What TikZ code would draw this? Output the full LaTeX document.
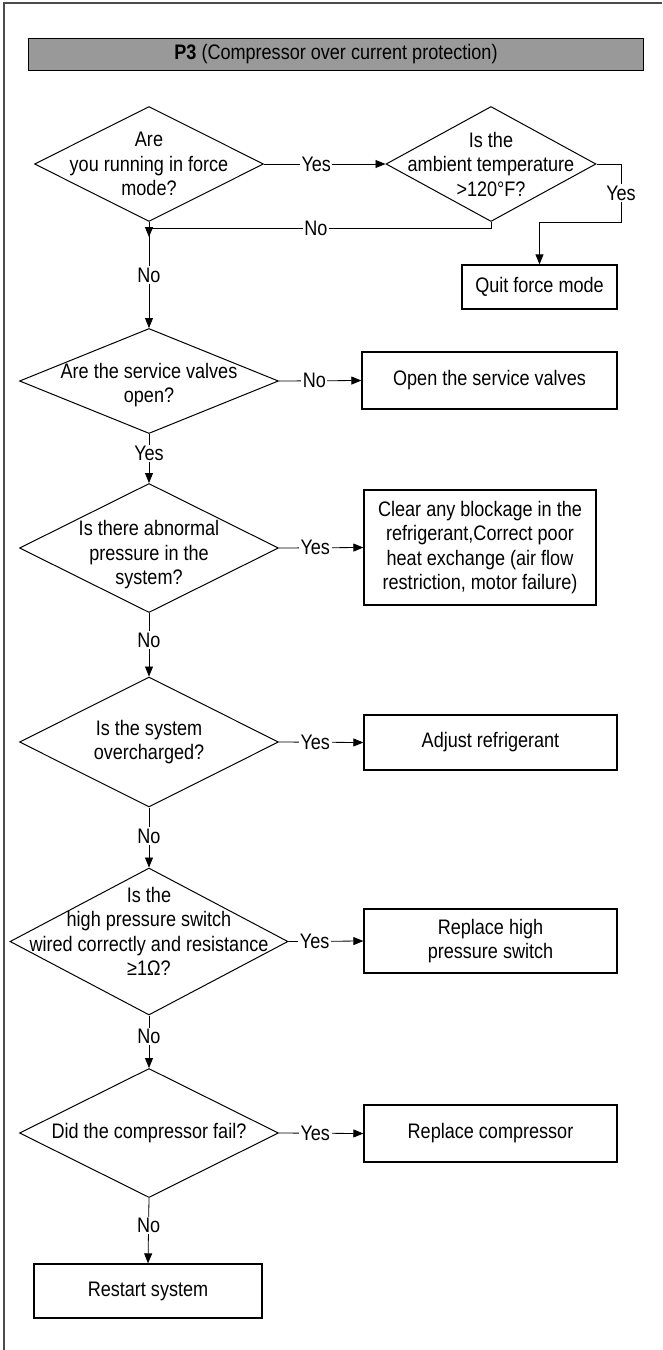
\documentclass[tikz,border=0pt]{standalone}
\usepackage{fontspec}
\setmainfont{Liberation Sans}[FakeStretch=0.86]
\usetikzlibrary{shapes.geometric,arrows.meta}
\begin{document}
\begin{tikzpicture}[x=1pt, y=-1pt,
  every node/.style={font=\fontsize{21}{24.5}\selectfont},
  decision/.style={draw, shape=diamond, inner sep=0pt, line width=1pt},
  qtext/.style={align=center, inner sep=0pt},
  action/.style={draw, line width=1.3pt, align=center, inner sep=0pt},
  flow/.style={line width=0.8pt, -{Triangle[length=10pt, width=8pt]}},
  lbl/.style={fill=white, inner sep=1.5pt}]
  \useasboundingbox (0,0) rectangle (662,1350);
  \draw[line width=1.2pt, black!70] (4,1350) -- (4,3) -- (662,3);
  \node[draw, fill=black!40, line width=1.3pt, minimum width=615pt, minimum height=32pt, inner sep=0pt] (title) at (336,54.5) {\textbf{P3} (Compressor over current protection)};
  % questions
  \node[decision, minimum width=229pt, minimum height=115pt] (q1) at (149,164) {};
  \node[qtext] (q1t) at (q1) {Are\\you running in force\\mode?};
  \node[decision, minimum width=210pt, minimum height=115pt] (q2) at (491,164) {};
  \node[qtext] (q2t) at (q2) {Is the\\ambient temperature\\>120°F?};
  \node[decision, minimum width=259pt, minimum height=105pt] (q3) at (149,381) {};
  \node[qtext] (q3t) at ([yshift=-4pt]q3) {Are the service valves\\open?};
  \node[decision, minimum width=259pt, minimum height=129pt] (q4) at (149,548) {};
  \node[qtext] (q4t) at ([yshift=-7pt]q4) {Is there abnormal\\pressure in the\\system?};
  \node[decision, minimum width=259pt, minimum height=130pt] (q5) at (149,742) {};
  \node[qtext] (q5t) at (q5) {Is the system\\overcharged?};
  \node[decision, minimum width=278pt, minimum height=147pt] (q6) at (149,941.5) {};
  \node[qtext] (q6t) at ([yshift=10pt]q6) {Is the\\high pressure switch\\wired correctly and resistance\\≥1Ω?};
  \node[decision, minimum width=259pt, minimum height=129pt] (q7) at (149,1133) {};
  \node[qtext] (q7t) at (q7) {Did the compressor fail?};
  % actions
  \node[action, minimum width=155pt, minimum height=44pt] (quit) at (539.5,287) {Quit force mode};
  \node[action, minimum width=255pt, minimum height=57pt] (open) at (489.5,380.5) {Open the service valves};
  \node[action, minimum width=232pt, minimum height=115pt] (clear) at (480,547.5) {Clear any blockage in the\\refrigerant,Correct poor\\heat exchange (air flow\\restriction, motor failure)};
  \node[action, minimum width=253pt, minimum height=55pt] (adjust) at (490.5,742.5) {Adjust refrigerant};
  \node[action, minimum width=253pt, minimum height=64pt] (hps) at (490.5,941) {Replace high\\pressure switch};
  \node[action, minimum width=253pt, minimum height=57pt] (comp) at (490.5,1133.5) {Replace compressor};
  \node[action, minimum width=228pt, minimum height=54pt] (restart) at (148,1291) {Restart system};
  \coordinate (yesbend) at (621,222);
  \coordinate (nojoin) at (149,237);
  % connectors
  \draw[flow] (q1.east) -- node[lbl, pos=0.43] {Yes} (q2.west);
  \draw[flow] (q2.east) -| node[lbl, pos=0.75] {Yes} (yesbend) -| (quit.north);
  \draw[flow] (q2.south) -- ++(0,6) -| node[lbl, pos=0.256] {No} (nojoin);
  \draw[flow] (q1.south) -- node[lbl] {No} (q3.north);
  \draw[flow] (q3.east) -- node[lbl, pos=0.43] {No} (open.west);
  \draw[flow] (q3.south) -- node[lbl, pos=0.4] {Yes} (q4.north);
  \draw[flow] (q4.east) -- node[lbl, pos=0.43] {Yes} (clear.west);
  \draw[flow] (q4.south) -- node[lbl, pos=0.43] {No} (q5.north);
  \draw[flow] (q5.east) -- node[lbl, pos=0.43] {Yes} (adjust.west);
  \draw[flow] (q5.south) -- node[lbl, pos=0.48] {No} (q6.north);
  \draw[flow] (q6.east) -- node[lbl, pos=0.35] {Yes} (hps.west);
  \draw[flow] (q6.south) -- node[lbl, pos=0.4] {No} (q7.north);
  \draw[flow] (q7.east) -- node[lbl, pos=0.43] {Yes} (comp.west);
  \draw[flow] (q7.south) -- node[lbl, pos=0.42] {No} (restart.north);
\end{tikzpicture}
\end{document}
